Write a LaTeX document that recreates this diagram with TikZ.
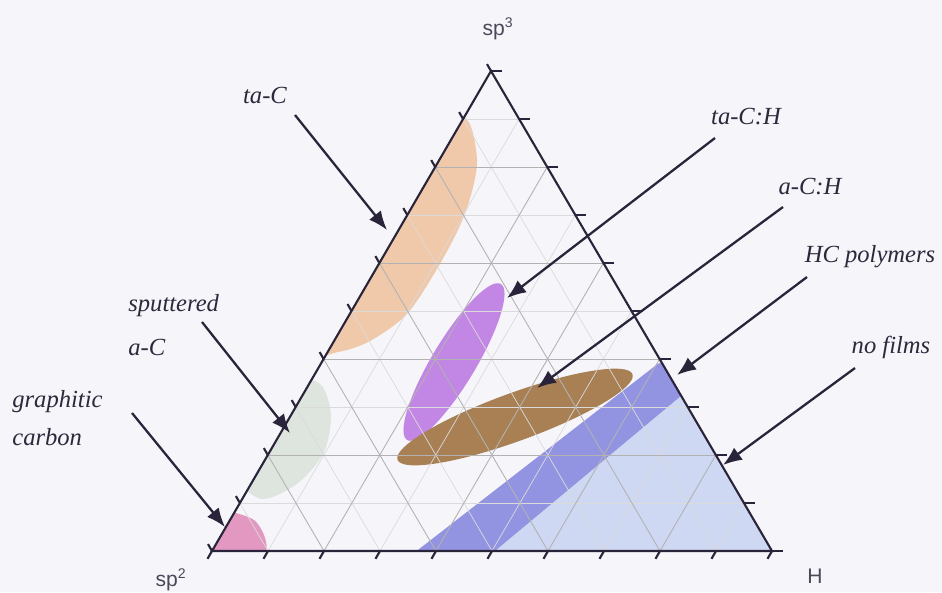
\documentclass[tikz,border=0pt]{standalone}
\usepackage{fontspec}
\setmainfont{Liberation Serif}
\setsansfont{Liberation Sans}
\usetikzlibrary{arrows.meta, calc}

\definecolor{paper}{RGB}{246,245,250}
\definecolor{axisline}{RGB}{42,36,58}
\definecolor{labeltext}{RGB}{45,40,60}
\definecolor{tacfill}{RGB}{240,200,170}
\definecolor{sputfill}{RGB}{222,229,222}
\definecolor{graphfill}{RGB}{226,152,192}
\definecolor{tachfill}{RGB}{194,134,228}
\definecolor{achfill}{RGB}{168,128,84}
\definecolor{hcfill}{RGB}{146,148,226}
\definecolor{nofilmfill}{RGB}{206,216,242}

\begin{document}
\begin{tikzpicture}[
  x=0.02cm, y=-0.02cm,
  edge/.style={draw=axisline, line width=1.2pt},
  gridmajor/.style={draw=gray!60, line width=0.5pt},
  gridminor/.style={draw=gray!28, line width=0.4pt},
  label/.style={font=\itshape\fontsize{14}{16}\selectfont, text=labeltext, inner sep=0pt},
  corner/.style={font=\sffamily\fontsize{12}{14}\selectfont, text=labeltext!85, inner sep=0pt},
  arrow/.style={-{Latex[length=0.38cm,width=0.3cm]}, line width=1.3pt, draw=axisline}
]

% Background
\fill[paper] (0,0) rectangle (942,592);
\useasboundingbox (0,0) rectangle (942,592);

% Corners
\coordinate (csp2) at (212,551);
\coordinate (cH) at (772,551);
\coordinate (csp3) at (491,71);

% Regions
\begin{scope}
  \clip (csp2) -- (cH) -- (csp3) -- cycle;
  \fill[nofilmfill] (484,560) -- (690,380) -- (800,380) -- (800,560) -- cycle;
  \fill[hcfill] (405,560) -- (655,366) .. controls (662,360) and (672,360) .. (680,365) -- (700,380) -- (484,560) -- cycle;
  \fill[tacfill] plot[smooth cycle] coordinates {(440,116) (468,121) (477,160) (471,195) (458,230) (434,274) (406,315) (370,341) (338,352) (300,352) (360,230)};
  \fill[sputfill] plot[smooth cycle] coordinates {(300,378) (322,386) (331,415) (325,450) (306,476) (282,493) (258,498) (235,470) (270,395)};
  \fill[graphfill] plot[smooth cycle] coordinates {(205,508) (232,512) (254,520) (264,535) (266,551) (250,565) (200,560)};
  \fill[tachfill, rotate around={59:(454,362)}] (454,362) ellipse [x radius=91, y radius=22];
  \fill[achfill, rotate around={20:(515,417)}] (515,417) ellipse [x radius=125, y radius=24];
\end{scope}

% Grid
\foreach \f in {0.1,0.3,0.5,0.7,0.9} {
  \draw[gridminor] ($(csp2)!\f!(csp3)$) -- ($(cH)!\f!(csp3)$);
  \draw[gridminor] ($(csp2)!\f!(cH)$) -- ($(csp2)!\f!(csp3)$);
  \draw[gridminor] ($(cH)!\f!(csp2)$) -- ($(cH)!\f!(csp3)$);
}
\foreach \f in {0.2,0.4,0.6,0.8} {
  \draw[gridmajor] ($(csp2)!\f!(csp3)$) -- ($(cH)!\f!(csp3)$);
  \draw[gridmajor] ($(csp2)!\f!(cH)$) -- ($(csp2)!\f!(csp3)$);
  \draw[gridmajor] ($(cH)!\f!(csp2)$) -- ($(cH)!\f!(csp3)$);
}

% Axes and ticks
\draw[edge] (csp2) -- (cH) -- (csp3) -- cycle;
\foreach \i in {0,...,10} {
  \draw[edge] ($(csp2)!\i/10!(cH)$) -- ++(120:9);
  \draw[edge] ($(cH)!\i/10!(csp3)$) -- ++(0:11);
  \draw[edge] ($(csp3)!\i/10!(csp2)$) -- ++(240:8);
}

% Nodes
\node[corner] (sp3lab) at (498,29) {sp\textsuperscript{3}};
\node[corner] (sp2lab) at (171,580) {sp\textsuperscript{2}};
\node[corner] (Hlab) at (815,576) {H};

\node[label] (tac) at (265,95) {ta-C};
\node[label] (tach) at (746,117) {ta-C:H};
\node[label] (ach) at (810,187) {a-C:H};
\node[label] (hcpoly) at (870,257) {HC polymers};
\node[label] (nofilm) at (891,347) {no films};
\node[label, anchor=west, align=left, font=\itshape\fontsize{14}{25}\selectfont] (sput) at (128,325) {sputtered\\a-C};
\node[label, anchor=west, align=left, font=\itshape\fontsize{14}{22}\selectfont] (graph) at (12,418) {graphitic\\carbon};

% Arrow ends
\coordinate (tacA) at (295,115);   \coordinate (tacB) at (387,230);
\coordinate (sputA) at (202,322);  \coordinate (sputB) at (290,433);
\coordinate (graphA) at (132,413); \coordinate (graphB) at (225,527);
\coordinate (tachA) at (715,138);  \coordinate (tachB) at (507,298);
\coordinate (achA) at (783,207);   \coordinate (achB) at (537,388);
\coordinate (hcA) at (807,277);    \coordinate (hcB) at (677,375);
\coordinate (nofA) at (855,368);   \coordinate (nofB) at (723,465);

% Arrows
\draw[arrow] (tacA) -- (tacB);
\draw[arrow] (sputA) -- (sputB);
\draw[arrow] (graphA) -- (graphB);
\draw[arrow] (tachA) -- (tachB);
\draw[arrow] (achA) -- (achB);
\draw[arrow] (hcA) -- (hcB);
\draw[arrow] (nofA) -- (nofB);

\end{tikzpicture}
\end{document}
